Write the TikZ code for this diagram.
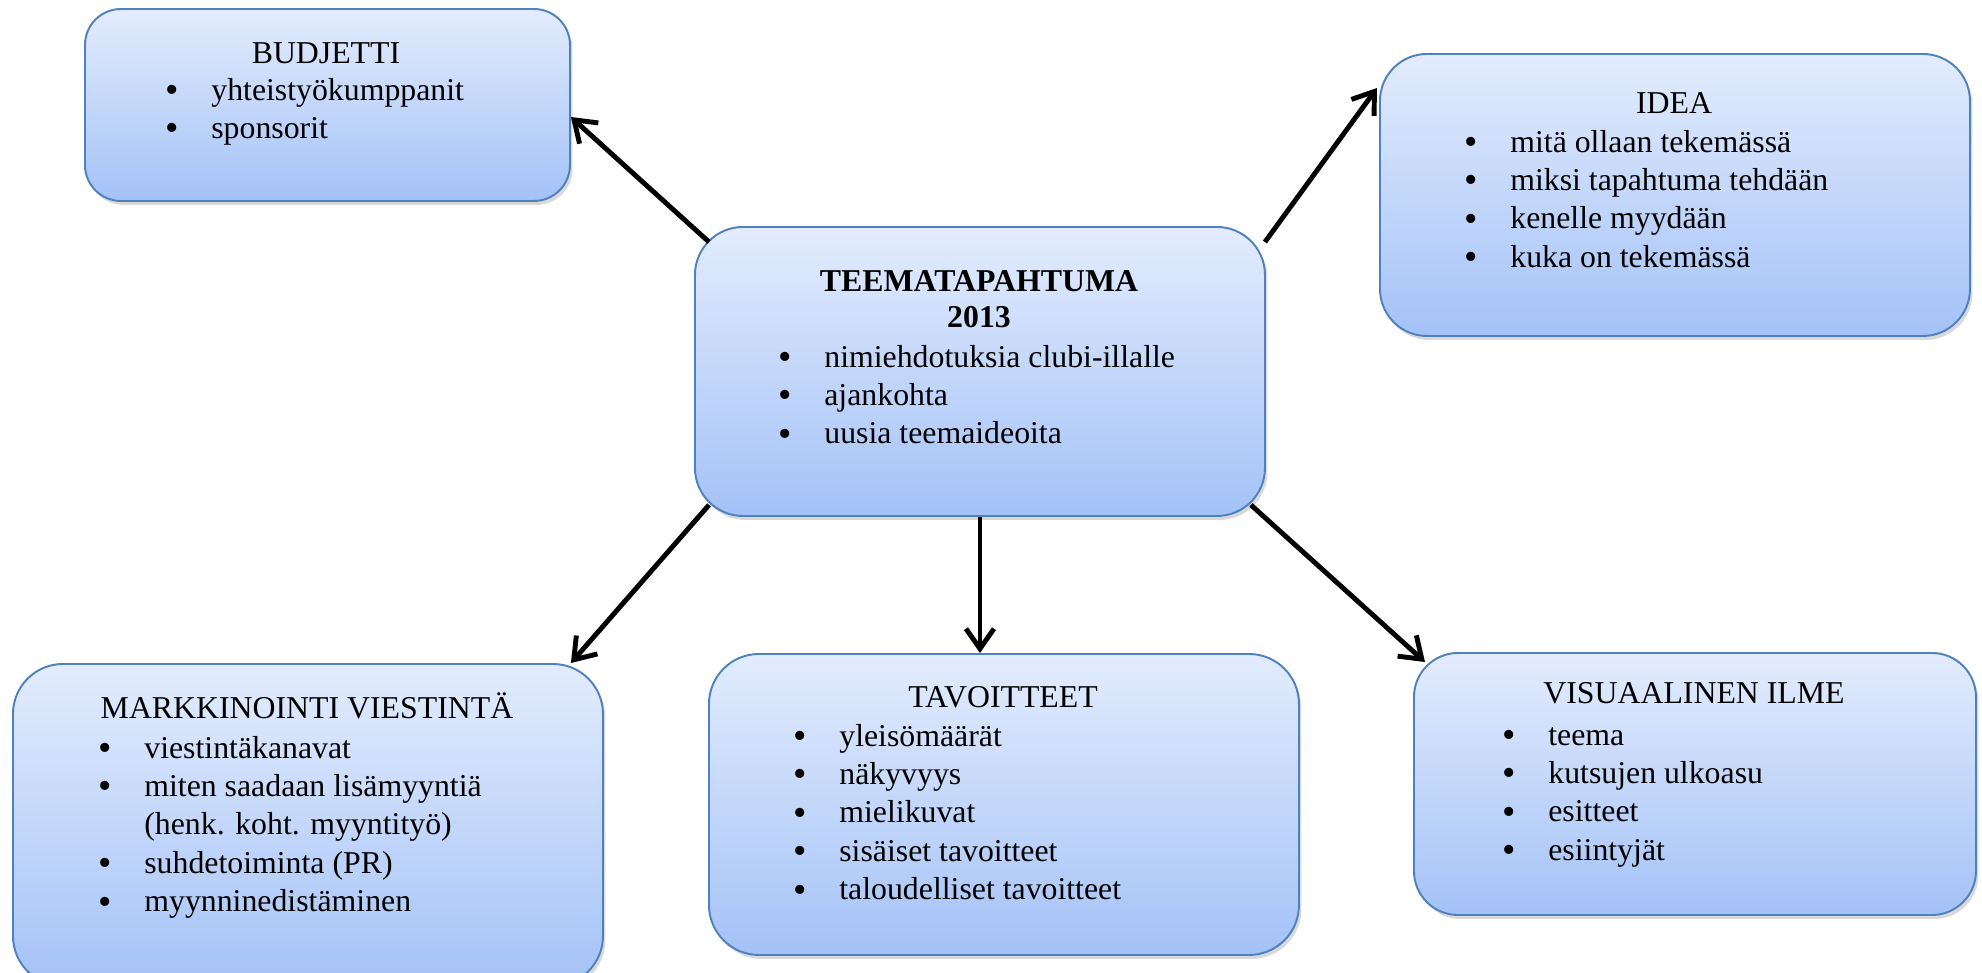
\documentclass[tikz,border=0pt]{standalone}
\usepackage{fontspec}
\setmainfont{Liberation Serif}
\usepackage{xcolor}
\usepackage{graphicx}
\usetikzlibrary{arrows.meta,shadows}
\definecolor{BoxTop}{HTML}{E3ECFD}
\definecolor{BoxBot}{HTML}{A4C2F7}
\definecolor{BoxLine}{HTML}{4F81BD}
\newlength{\px}
\setlength{\px}{0.2mm}
\newcommand{\itm}[1]{\makebox[9.2mm][l]{\raisebox{-0.07em}{\scalebox{1.2}{\textbullet}}}#1}
\newcommand{\blist}[1]{\begin{tabular}[t]{@{}l@{}}#1\end{tabular}}
\tikzset{
    topic/.style={draw=BoxLine,line width=1.1pt,top color=BoxTop,bottom color=BoxBot,rounded corners=#1,
        drop shadow={opacity=0.3,shadow xshift=0.5mm,shadow yshift=-0.8mm},anchor=north west,inner sep=0pt},
    ttl/.style={anchor=base,inner sep=0pt},
    lst/.style={anchor=base west,inner sep=0pt},
    conn/.style={line width=2.8pt,-{Straight Barb[length=4mm,width=5.6mm]}},
}

\begin{document}
\begin{tikzpicture}[x=1\px,y=-1\px,every node/.style={font=\fontsize{18.1}{21.9}\selectfont}]
    \useasboundingbox (0,0) rectangle (1982,972);    % Freeze the bounding box
    %
    % --- --- --- Centre
    \node[topic=48\px,minimum width=570\px,minimum height=289\px] (hub) at (694,226) {};
    \node[ttl] (hubttl) at ([shift={(285,65)}]hub.north west) {\textbf{TEEMATAPAHTUMA}};
    \node[ttl] (hubyear) at ([shift={(285,101)}]hub.north west) {\textbf{2013}};
    \node[lst] (hublst) at ([shift={(84,141)}]hub.north west) {\blist{\itm{nimiehdotuksia clubi-illalle}\\\itm{ajankohta}\\\itm{uusia teemaideoita}}};
    % --- --- --- Budget
    \node[topic=36\px,minimum width=485\px,minimum height=192\px] (budget) at (84,8) {};
    \node[ttl] (budgetttl) at ([shift={(242,55)}]budget.north west) {BUDJETTI};
    \node[lst] (budgetlst) at ([shift={(81,92)}]budget.north west) {\blist{\itm{yhteistyökumppanit}\\\itm{sponsorit}}};
    % --- --- --- Idea
    \node[topic=47\px,minimum width=590\px,minimum height=282\px] (idea) at (1379,53) {};
    \node[ttl] (ideattl) at ([shift={(295,60)}]idea.north west) {IDEA};
    \node[lst] (idealst) at ([shift={(85,99)}]idea.north west) {\blist{\itm{mitä ollaan tekemässä}\\\itm{miksi tapahtuma tehdään}\\\itm{kenelle myydään}\\\itm{kuka on tekemässä}}};
    % --- --- --- Marketing
    \node[topic=50\px,minimum width=590\px,minimum height=322\px] (market) at (12,663) {};
    \node[ttl] (marketttl) at ([shift={(295,55)}]market.north west) {MARKKINOINTI VIESTINTÄ};
    \node[lst] (marketlst) at ([shift={(86,95)}]market.north west) {\blist{\itm{viestintäkanavat}\\\itm{miten saadaan lisämyyntiä}\\\hspace*{9.2mm}(henk. koht. myyntityö)\\\itm{suhdetoiminta (PR)}\\\itm{myynninedistäminen}}};
    % --- --- --- Goals
    \node[topic=50\px,minimum width=590\px,minimum height=301\px] (goals) at (708,653) {};
    \node[ttl] (goalsttl) at ([shift={(295,54)}]goals.north west) {TAVOITTEET};
    \node[lst] (goalslst) at ([shift={(85,93)}]goals.north west) {\blist{\itm{yleisömäärät}\\\itm{näkyvyys}\\\itm{mielikuvat}\\\itm{sisäiset tavoitteet}\\\itm{taloudelliset tavoitteet}}};
    % --- --- --- Visual look
    \node[topic=44\px,minimum width=562\px,minimum height=262\px] (visual) at (1413,652) {};
    \node[ttl] (visualttl) at ([shift={(281,51)}]visual.north west) {VISUAALINEN ILME};
    \node[lst] (visuallst) at ([shift={(89,93)}]visual.north west) {\blist{\itm{teema}\\\itm{kutsujen ulkoasu}\\\itm{esitteet}\\\itm{esiintyjät}}};
    %
    % === === === Arrows
    \draw[conn] ([shift={(15,16)}]hub.north west) -- ([shift={(0,109)}]budget.north east);
    \draw[conn] ([shift={(-1,16)}]hub.north east) -- ([shift={(-2,35)}]idea.north west);
    \draw[conn] ([shift={(15,-12)}]hub.south west) -- ([shift={(-33,0)}]market.north east);
    \draw[conn] (hub.south) -- (hub.south |- goals.north);
    \draw[conn] ([shift={(-15,-12)}]hub.south east) -- ([shift={(12,10)}]visual.north west);
\end{tikzpicture}
\end{document}
